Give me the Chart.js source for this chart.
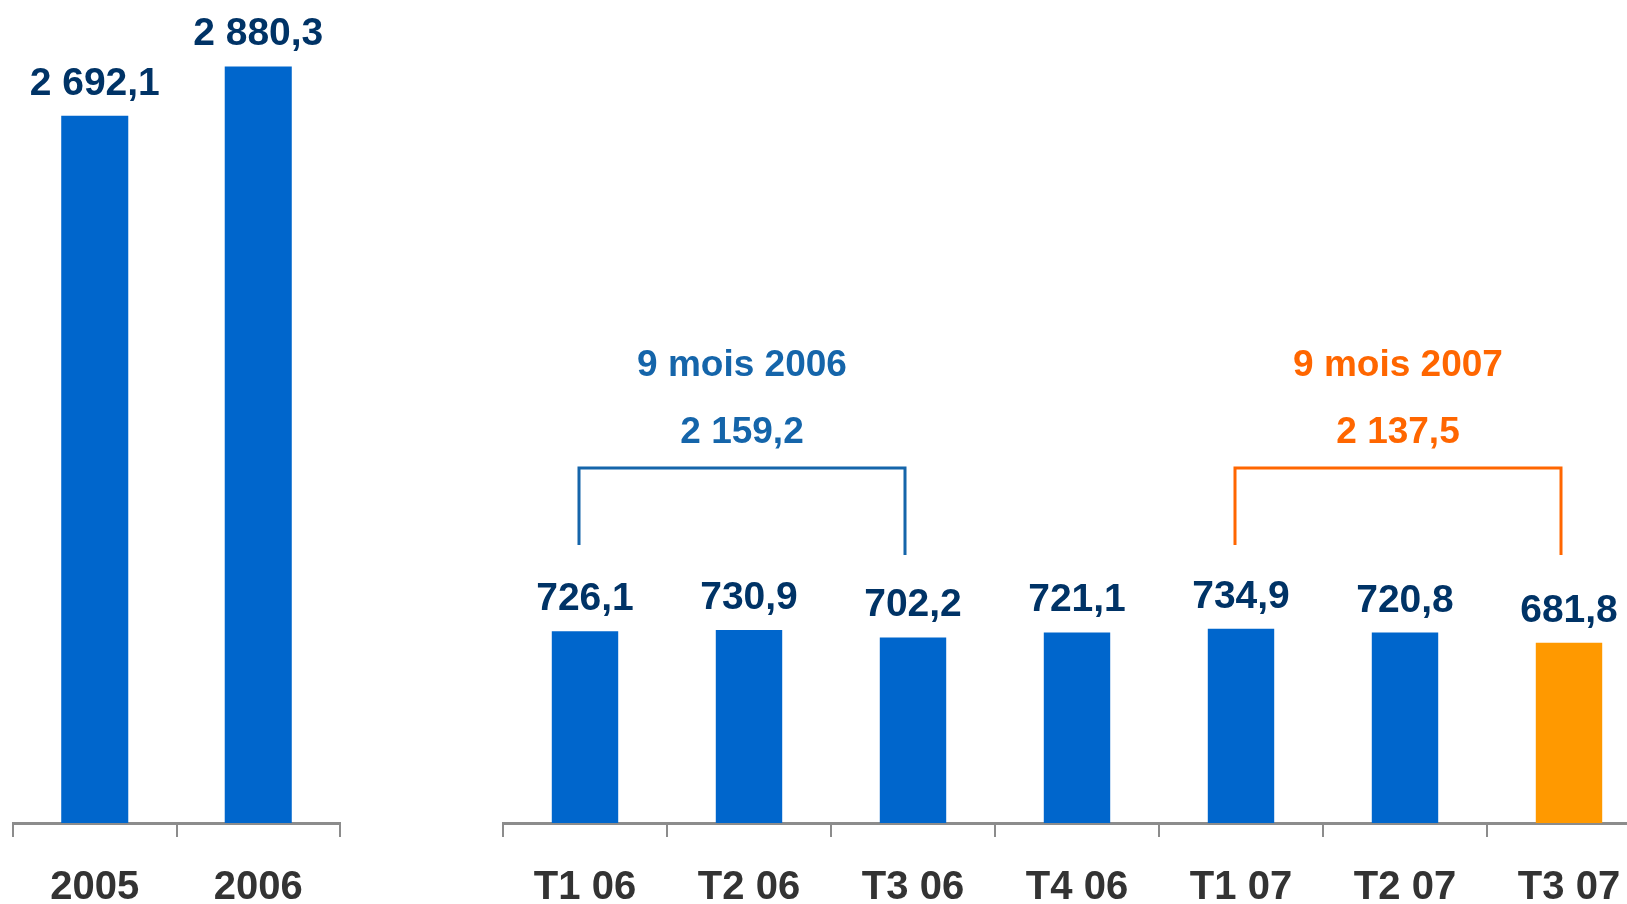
<!DOCTYPE html>
<html><head><meta charset="utf-8">
<script src="https://cdn.jsdelivr.net/npm/chart.js@4.4.0/dist/chart.umd.min.js"></script>
<style>
html,body{margin:0;padding:0;width:1627px;height:904px;overflow:hidden;background:#fff;}
#left{position:absolute;left:0;top:0;width:380px;height:904px;}
#right{position:absolute;left:460px;top:0;width:1240px;height:904px;}
</style></head><body>
<canvas id="left" width="380" height="904"></canvas>
<canvas id="right" width="1240" height="904"></canvas>
<script>
// ---- data ----
const yearLabels = ['2005', '2006'];
const yearValues = [2692.1, 2880.3];
const quarterLabels = ['T1 06', 'T2 06', 'T3 06', 'T4 06', 'T1 07', 'T2 07', 'T3 07'];
const quarterValues = [726.1, 730.9, 702.2, 721.1, 734.9, 720.8, 681.8];
const groupTitles = ['9 mois 2006', '9 mois 2007'];
const groupTotals = [2159.2, 2137.5];
const groupFrom = [0, 4];
const groupTo = [2, 6];

// ---- styles ----
const BLUE = '#0066CC', ORANGE = '#FF9900';
const quarterColors = quarterValues.map((v, i) => i === quarterValues.length - 1 ? ORANGE : BLUE);
const groupColors = ['#1565AA', '#FF6600'];
const FONT = '"Liberation Sans", Arial, Helvetica, sans-serif';

function fr(v) {
  const parts = v.toFixed(1).split('.');
  return parts[0].replace(/\B(?=(\d{3})+(?!\d))/g, ' ') + ',' + parts[1];
}

const valueLabels = {
  id: 'valueLabels',
  afterDatasetsDraw(chart) {
    const ctx = chart.ctx;
    const meta = chart.getDatasetMeta(0);
    const data = chart.data.datasets[0].data;
    ctx.save();
    ctx.font = 'bold 39px ' + FONT;
    ctx.fillStyle = '#003366';
    ctx.textAlign = 'center';
    ctx.textBaseline = 'alphabetic';
    meta.data.forEach((bar, i) => ctx.fillText(fr(data[i]), bar.x, bar.y - 21));
    ctx.restore();
  }
};

const brackets = {
  id: 'brackets',
  afterDatasetsDraw(chart, args, opts) {
    const groups = opts.groups || [];
    const xs = chart.scales.x;
    const ctx = chart.ctx;
    groups.forEach(g => {
      const x1 = xs.getPixelForValue(g.from) - 6;
      const x2 = xs.getPixelForValue(g.to) - 8;
      ctx.save();
      ctx.strokeStyle = g.color;
      ctx.lineWidth = 3;
      ctx.lineCap = 'butt';
      ctx.lineJoin = 'miter';
      ctx.beginPath();
      ctx.moveTo(x1, 545);
      ctx.lineTo(x1, 468);
      ctx.lineTo(x2, 468);
      ctx.lineTo(x2, 555);
      ctx.stroke();
      ctx.fillStyle = g.color;
      ctx.font = 'bold 37px ' + FONT;
      ctx.textAlign = 'center';
      ctx.textBaseline = 'alphabetic';
      const cx = (x1 + x2) / 2;
      ctx.fillText(g.title, cx, 376);
      ctx.fillText(fr(g.total), cx, 443);
      ctx.restore();
    });
  }
};

function makeOptions(yMax, padLeft, padRight, groups) {
  return {
    responsive: false,
    animation: false,
    devicePixelRatio: 1,
    layout: { padding: { left: padLeft, right: padRight, top: 0, bottom: 0 } },
    plugins: { legend: { display: false }, tooltip: { enabled: false }, brackets: { groups: groups } },
    scales: {
      y: { display: false, min: 0, max: yMax },
      x: {
        afterFit(scale) { scale.height = 81; },
        border: { display: true, color: '#8C8C8C', width: 3 },
        grid: { display: true, drawOnChartArea: false, drawTicks: true, tickLength: 14, color: '#8C8C8C', lineWidth: 2, offset: true },
        ticks: { color: '#333333', padding: 27, font: { family: FONT, size: 40, weight: 'bold' }, maxRotation: 0, autoSkip: false }
      }
    }
  };
}

new Chart(document.getElementById('left'), {
  type: 'bar',
  data: { labels: yearLabels, datasets: [{ data: yearValues, backgroundColor: BLUE, barPercentage: 0.41, categoryPercentage: 1 }] },
  options: makeOptions(3133, 13, 40, []),
  plugins: [valueLabels, brackets]
});

const groups = groupTitles.map((t, i) => ({ title: t, total: groupTotals[i], from: groupFrom[i], to: groupTo[i], color: groupColors[i] }));
new Chart(document.getElementById('right'), {
  type: 'bar',
  data: { labels: quarterLabels, datasets: [{ data: quarterValues, backgroundColor: quarterColors, barPercentage: 0.405, categoryPercentage: 1 }] },
  options: makeOptions(3115, 43, 49, groups),
  plugins: [valueLabels, brackets]
});
</script>
</body></html>
